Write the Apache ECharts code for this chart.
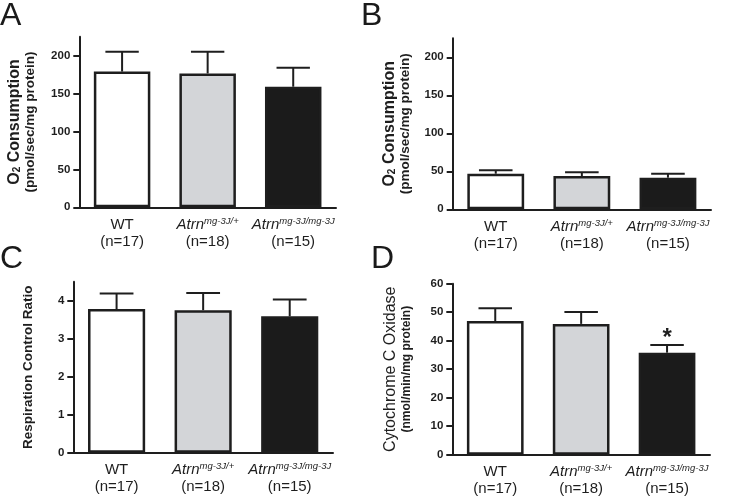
<!DOCTYPE html>
<html><head><meta charset="utf-8">
<script src="https://cdn.jsdelivr.net/npm/echarts@6/dist/echarts.min.js"></script>
<style>html,body{margin:0;padding:0;background:#fff}#c{width:750px;height:497px}</style>
</head><body><div id="c"></div>
<script>
// ---- data ----
const catMain = ['WT', 'Atrn', 'Atrn'];
const catSup = ['', 'mg-3J/+', 'mg-3J/mg-3J'];
const catN = ['(n=17)', '(n=18)', '(n=15)'];

const meanA = [179, 176.5, 159];
const topA = [205, 205, 184];
const meanB = [46.8, 43.8, 41.6];
const topB = [51.3, 48.7, 46.8];
const meanC = [3.78, 3.75, 3.59];
const topC = [4.19, 4.2, 4.03];
const meanD = [46.9, 45.9, 35.8];
const topD = [51.4, 50.1, 38.5];
const sigD = ['', '', '*'];

const ticksAB = [0, 50, 100, 150, 200];
const ticksC = [0, 1, 2, 3, 4];
const ticksD = [0, 10, 20, 30, 40, 50, 60];

const panelLetters = ['A', 'B', 'C', 'D'];

// ---- styles ----
const FONT = 'Liberation Sans';
const INK = '#1e1e1e';
const barFills = ['#ffffff', '#d3d5d8', '#1b1b1b'];

const grids = [
  {left: 79.3, top: 36.7, width: 256.7, height: 170.6},
  {left: 452.7, top: 38.3, width: 258.3, height: 171},
  {left: 73.3, top: 281.7, width: 259.7, height: 171},
  {left: 452.3, top: 283.7, width: 257.7, height: 171}
];

const catRich = {
  m: {fontFamily: FONT, fontSize: 15, color: INK, lineHeight: 17},
  it: {fontFamily: FONT, fontSize: 15, fontStyle: 'italic', color: INK, lineHeight: 17},
  sup: {fontFamily: FONT, fontSize: 9.5, fontStyle: 'italic', color: INK, lineHeight: 9, verticalAlign: 'top'}
};
function catFormatter(v, i) {
  const first = catSup[i] ? '{it|' + catMain[i] + '}{sup|' + catSup[i] + '}' : '{m|' + catMain[i] + '}';
  return first + '\n{m|' + catN[i] + '}';
}

function xAxis(gi) {
  return {
    type: 'category', gridIndex: gi, data: catMain.map((c, i) => String(i)),
    axisLine: {lineStyle: {color: INK, width: 2}},
    axisTick: {alignWithLabel: true, interval: 0, length: 6, lineStyle: {color: INK, width: 2}},
    axisLabel: {interval: 0, margin: 9, formatter: catFormatter, rich: catRich}
  };
}
function yAxis(gi, max, ticks, name, nameRich, gap) {
  return {
    type: 'value', gridIndex: gi, min: 0, max: max,
    splitLine: {show: false},
    axisLine: {show: true, lineStyle: {color: INK, width: 2}},
    axisTick: {show: true, length: 6, customValues: ticks, lineStyle: {color: INK, width: 2}},
    axisLabel: {customValues: ticks, margin: 9, color: INK, fontFamily: FONT, fontWeight: 'bold', fontSize: 11.5},
    name: name, nameLocation: 'middle', nameRotate: 90, nameGap: gap,
    nameTextStyle: {rich: nameRich, align: 'center'}
  };
}
const o2Rich = {
  b: {fontFamily: FONT, fontWeight: 'bold', fontSize: 16, color: INK, lineHeight: 16},
  sub: {fontFamily: FONT, fontWeight: 'bold', fontSize: 10, color: INK, lineHeight: 8, verticalAlign: 'bottom'},
  s: {fontFamily: FONT, fontWeight: 'bold', fontSize: 13.5, color: INK, lineHeight: 15}
};
const o2Name = '{b|O}{sub|2}{b| Consumption}\n{s|(pmol/sec/mg protein)}';
const rcrRich = {b: {fontFamily: FONT, fontWeight: 'bold', fontSize: 13.5, color: INK}};
const coxRich = {
  b: {fontFamily: FONT, fontSize: 16, color: INK, lineHeight: 17},
  s: {fontFamily: FONT, fontWeight: 'bold', fontSize: 12, color: INK, lineHeight: 14}
};

function barSeries(gi, means) {
  return {
    type: 'bar', xAxisIndex: gi, yAxisIndex: gi, barWidth: '66%',
    data: means.map((v, i) => ({value: v, itemStyle: {color: barFills[i]}})),
    itemStyle: {borderColor: INK, borderWidth: 2.5},
    silent: true, animation: false
  };
}
function errSeries(gi, means, tops, sig) {
  return {
    type: 'custom', xAxisIndex: gi, yAxisIndex: gi, z: 3,
    data: means.map((m, i) => [i, m, tops[i]]),
    encode: {x: 0, y: [1, 2]},
    renderItem: function (params, api) {
      const i = api.value(0);
      const p0 = api.coord([i, api.value(1)]);
      const p1 = api.coord([i, api.value(2)]);
      const w = api.size([1, 0])[0] * 0.39;
      const children = [
        {type: 'line', shape: {x1: p0[0], y1: p0[1], x2: p1[0], y2: p1[1]}, style: {stroke: INK, lineWidth: 2}},
        {type: 'line', shape: {x1: p1[0] - w / 2, y1: p1[1], x2: p1[0] + w / 2, y2: p1[1]}, style: {stroke: INK, lineWidth: 2}}
      ];
      if (sig && sig[i]) {
        children.push({type: 'text', x: p1[0], y: p1[1] - 7,
          style: {text: sig[i], fontFamily: FONT, fontWeight: 'bold', fontSize: 24, fill: INK, align: 'center', verticalAlign: 'middle'}});
      }
      return {type: 'group', children: children};
    },
    silent: true, animation: false
  };
}

const letterPos = [[0, 0], [361, 0], [0, 243], [371, 243]];

const option = {
  backgroundColor: '#fff',
  animation: false,
  title: panelLetters.map((t, i) => ({
    text: t, left: letterPos[i][0], top: letterPos[i][1], padding: 0,
    textStyle: {fontFamily: FONT, fontWeight: 'normal', fontSize: 32, color: '#1a1a1a'}
  })),
  grid: grids,
  xAxis: [0, 1, 2, 3].map(xAxis),
  yAxis: [
    yAxis(0, 225, ticksAB, o2Name, o2Rich, 42),
    yAxis(1, 225, ticksAB, o2Name, o2Rich, 40),
    yAxis(2, 4.5, ticksC, '{b|Respiration Control Ratio}', rcrRich, 38),
    yAxis(3, 60, ticksD, '{b|Cytochrome C Oxidase}\n{s|(nmol/min/mg protein)}', coxRich, 39)
  ],
  series: [
    barSeries(0, meanA), errSeries(0, meanA, topA),
    barSeries(1, meanB), errSeries(1, meanB, topB),
    barSeries(2, meanC), errSeries(2, meanC, topC),
    barSeries(3, meanD), errSeries(3, meanD, topD, sigD)
  ]
};
echarts.init(document.getElementById('c'), null, {renderer: 'canvas'}).setOption(option);
</script></body></html>
